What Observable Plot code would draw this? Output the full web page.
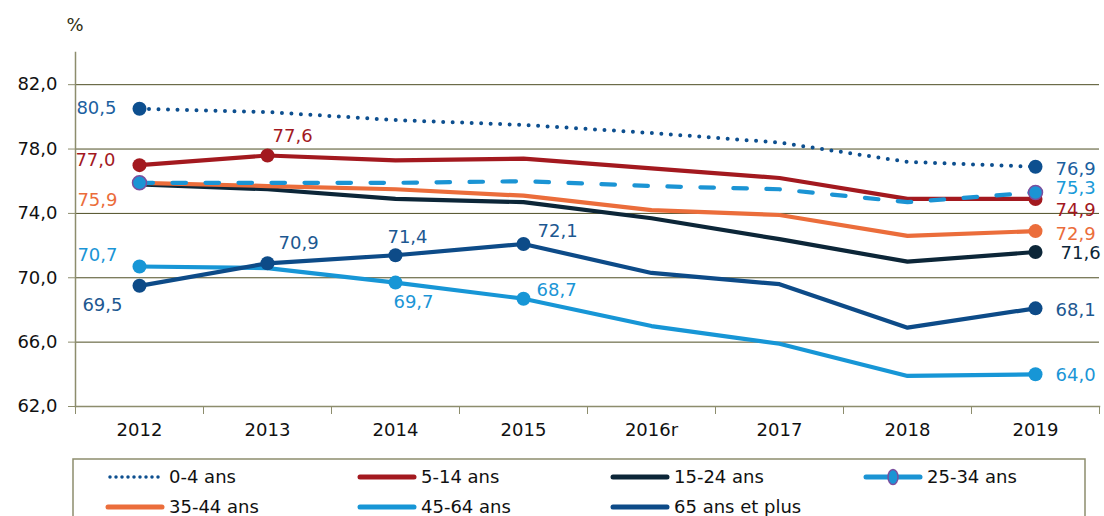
<!DOCTYPE html>
<html><head><meta charset="utf-8">
<script src="https://cdn.jsdelivr.net/npm/d3@7"></script>
<script src="https://cdn.jsdelivr.net/npm/@observablehq/plot@0.6"></script>
<style>
body{margin:0;background:#fff;font-family:"DejaVu Sans",sans-serif;overflow:hidden;}
#chart{width:1104px;}
#chart svg{display:block;}
</style></head><body><div id="chart"></div>
<script>
// ---- data ----
const years = ["2012","2013","2014","2015","2016r","2017","2018","2019"];
const seriesNames = ["0-4 ans","5-14 ans","15-24 ans","25-34 ans","35-44 ans","45-64 ans","65 ans et plus"];
const v0_4   = [80.5, 80.3, 79.8, 79.5, 79.0, 78.4, 77.2, 76.9];
const v5_14  = [77.0, 77.6, 77.3, 77.4, 76.8, 76.2, 74.9, 74.9];
const v15_24 = [75.8, 75.5, 74.9, 74.7, 73.7, 72.4, 71.0, 71.6];
const v25_34 = [75.9, 75.9, 75.9, 76.0, 75.7, 75.5, 74.7, 75.3];
const v35_44 = [75.9, 75.7, 75.5, 75.1, 74.2, 73.9, 72.6, 72.9];
const v45_64 = [70.7, 70.6, 69.7, 68.7, 67.0, 65.9, 63.9, 64.0];
const v65    = [69.5, 70.9, 71.4, 72.1, 70.3, 69.6, 66.9, 68.1];
const yTicks = [62, 66, 70, 74, 78, 82];
const seriesValues = [v0_4, v5_14, v15_24, v25_34, v35_44, v45_64, v65];
const markerIdx = [[0,7],[0,1,7],[7],[0,7],[7],[0,2,3,7],[0,1,2,3,7]];
const labelIdx  = [[0,7],[0,1,7],[7],[7],[0,7],[0,2,3,7],[0,1,2,3,7]];

// ---- styles ----
const colors = ["#0d4f8f","#a3191f","#0c2638","#1b94d4","#eb6d3b","#1796d6","#0d4b88"];
const labelColors = ["#1c5f9f","#a3191f","#0c2638","#1a9ad8","#eb6d3b","#1b95d6","#1d5891"];
const dashes = ["0 9.5", null, null, "13.5 19.5", null, null, null];
const drawOrder = [2,4,1,3,5,6,0];
const labelPos = {
  "0-0":["end",-23,-1], "0-7":["start",20,2],
  "1-0":["end",-24,-5], "1-1":["start",5,-19], "1-7":["start",20,11],
  "2-7":["start",25,1],
  "3-7":["start",20,-4],
  "4-0":["end",-22,17], "4-7":["start",20,3],
  "5-0":["end",-22,-11], "5-2":["middle",18,20], "5-3":["start",13,-8], "5-7":["start",20,1],
  "6-0":["end",-17,19], "6-1":["start",11,-20], "6-2":["middle",12,-18], "6-3":["start",14,-13], "6-7":["start",20,2]
};
const fmt = v => d3.format(".1f")(v).replace(".", ",");
const axisCol = "#8d8d6d";

const marks = [];
marks.push(Plot.gridY(yTicks, {stroke:"#4e4e24", strokeOpacity:1, strokeWidth:1}));
marks.push(Plot.frame({anchor:"left", stroke:axisCol, strokeWidth:1.5}));
marks.push(Plot.frame({anchor:"bottom", stroke:axisCol, strokeWidth:1.5}));
marks.push(Plot.axisY(yTicks, {tickSize:7, tickPadding:11, tickFormat:fmt, stroke:axisCol, fill:"#111", label:null}));
marks.push(Plot.axisX(d3.range(years.length), {tickSize:0, tickPadding:17, tickFormat:i=>years[i], fill:"#111", label:null}));
marks.push(Plot.axisX(d3.range(-0.5, years.length), {tickSize:8, tickFormat:()=>"", stroke:axisCol, label:null}));
marks.push(Plot.text(["%"], {frameAnchor:"top-left", dx:-9, dy:-34, textAnchor:"start", fill:"#2f2f12", fontSize:18}));

for (const s of drawOrder) {
  const vals = seriesValues[s];
  const rows = vals.map((v,i)=>({i, v}));
  marks.push(Plot.line(rows, {x:"i", y:"v", stroke:colors[s], strokeWidth: s===0?4:4.2,
    strokeDasharray: dashes[s] || undefined, strokeLinecap: dashes[s] ? "round" : "butt", strokeLinejoin:"round"}));
  const mrows = markerIdx[s].map(i=>({i, v:vals[i]}));
  marks.push(Plot.dot(mrows, {x:"i", y:"v", r:7, fill:colors[s],
    stroke: s===3 ? "#7b4e9e" : "none", strokeWidth: s===3 ? 1.5 : 0}));
}
for (let s=0; s<seriesValues.length; s++) {
  for (const i of labelIdx[s]) {
    const [anchor, dx, dy] = labelPos[`${s}-${i}`];
    marks.push(Plot.text([{i, v:seriesValues[s][i]}], {x:"i", y:"v", text:d=>fmt(d.v),
      textAnchor:anchor, dx, dy, fill:labelColors[s], fontSize:18}));
  }
}

const chart = Plot.plot({
  width:1104, height:455,
  marginLeft:75, marginRight:5, marginTop:52, marginBottom:49,
  style:{fontSize:"18px", fontFamily:"'DejaVu Sans', sans-serif", color:"#111", background:"#fff"},
  x:{type:"linear", domain:[-0.5, years.length-0.5], axis:null},
  y:{domain:[62,84], axis:null},
  marks
});
document.getElementById("chart").appendChild(chart);

// ---- legend ----
const lg = d3.select("#chart").append("svg").attr("width",1104).attr("height",61)
  .style("font-family","'DejaVu Sans', sans-serif").style("font-size","18px");
lg.append("rect").attr("x",73).attr("y",4).attr("width",1012).attr("height",80)
  .attr("fill","none").attr("stroke",axisCol).attr("stroke-width",1.5);
const colX = [108, 360, 613, 866];
const rowY = [22, 52];
seriesNames.forEach((name, s) => {
  const x = colX[s % 4], y = rowY[Math.floor(s / 4)];
  const g = lg.append("g");
  if (s === 0) {
    g.append("line").attr("x1",x+2).attr("x2",x+52).attr("y1",y).attr("y2",y)
      .attr("stroke",colors[s]).attr("stroke-width",3.5).attr("stroke-linecap","round").attr("stroke-dasharray","0 6");
  } else {
    g.append("line").attr("x1",x).attr("x2",x+54).attr("y1",y).attr("y2",y)
      .attr("stroke",colors[s]).attr("stroke-width",5).attr("stroke-linecap","round");
    if (s === 3) {
      g.append("ellipse").attr("cx",x+27).attr("cy",y).attr("rx",5).attr("ry",7.5)
        .attr("fill",colors[s]).attr("stroke","#7b4e9e").attr("stroke-width",1.5);
    }
  }
  g.append("text").attr("x", x + 61).attr("y", y).attr("dy","0.35em").attr("fill","#111").text(name);
});
</script>
</body></html>
